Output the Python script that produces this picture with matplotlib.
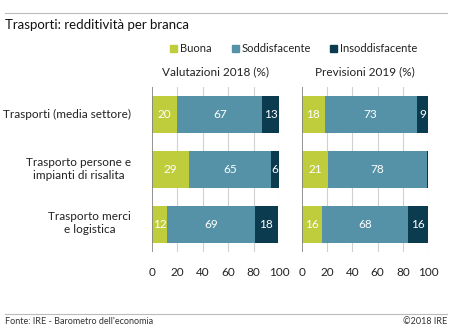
import matplotlib
matplotlib.use("Agg")
import matplotlib.pyplot as plt
from matplotlib.lines import Line2D
from matplotlib.patches import Rectangle

plt.rcParams['font.family'] = ['Lato', 'DejaVu Sans']

categories = ["Trasporti (media settore)",
              "Trasporto persone e\nimpianti di risalita",
              "Trasporto merci\ne logistica"]
series = ["Buona", "Soddisfacente", "Insoddisfacente"]
colors = ["#bfcd3c", "#5592a8", "#0b3b4f"]

val_2018 = {"Buona": [20, 29, 12], "Soddisfacente": [67, 65, 69], "Insoddisfacente": [13, 6, 18]}
prev_2019 = {"Buona": [18, 21, 16], "Soddisfacente": [73, 78, 68], "Insoddisfacente": [9, 1, 16]}
panel_titles = ["Valutazioni 2018 (%)", "Previsioni 2019 (%)"]
xticks = [0, 20, 40, 60, 80, 100]

W, H = 450, 328
fig = plt.figure(figsize=(W / 100, H / 100), dpi=100)

def fx(px):
    return px / W

def fy(py):
    return 1 - py / H

FS = 8.5
panels = [(152, 279, val_2018), (302, 428, prev_2019)]
y_top, y_bot = 87, 252

for i, (x0, x1, data) in enumerate(panels):
    ax = fig.add_axes([fx(x0), fy(y_bot), fx(x1 - x0), fy(y_top) - fy(y_bot)])
    ax.set_xlim(0, 100)
    ax.set_ylim(2.5, -0.5)
    for s in ax.spines.values():
        s.set_visible(False)
    for t in xticks[1:]:
        ax.axvline(t, color="#d0d0d0", lw=0.8, zorder=0)
    ax.axvline(0, color="#808080", lw=1.2, zorder=3)
    left = [0] * len(categories)
    for s, c in zip(series, colors):
        vals = data[s]
        ax.barh(range(len(categories)), vals, left=left, height=0.68, color=c, zorder=2)
        for j, v in enumerate(vals):
            if v >= 5:
                ax.text(left[j] + v / 2, j, str(v), ha="center", va="center",
                        color="white", fontsize=FS, zorder=4)
        left = [l + v for l, v in zip(left, vals)]
    ax.set_xticks(xticks)
    ax.tick_params(axis="x", length=0, pad=11, labelsize=FS, colors="#222222")
    ax.set_yticks([])
    fig.text(fx((x0 + x1) / 2), fy(72), panel_titles[i], fontsize=FS,
             ha="center", va="center", color="#222222")

# category labels
for j, cat in enumerate(categories):
    fig.text(fx(131), fy([114, 169, 223][j]), cat, fontsize=FS, ha="right", va="center",
             multialignment="center", color="#222222", linespacing=1.25)

# header and footer rules
fig.add_artist(Line2D([fx(5), fx(447)], [fy(13), fy(13)], color="#bbbbbb", lw=0.8))
fig.add_artist(Line2D([fx(5), fx(447)], [fy(314), fy(314)], color="#bbbbbb", lw=0.8))
fig.text(fx(5), fy(25), "Trasporti: redditività per branca", fontsize=9.5,
         ha="left", va="center", color="#111111")

# legend
legend_x = [170, 232, 330]
for x, s, c in zip(legend_x, series, colors):
    fig.add_artist(Rectangle((fx(x), fy(52)), fx(7), fy(45) - fy(52), color=c,
                             transform=fig.transFigure))
    fig.text(fx(x + 10), fy(48), s, fontsize=8, ha="left", va="center", color="#222222")

fig.text(fx(5), fy(322), "Fonte: IRE - Barometro dell'economia", fontsize=6.5,
         ha="left", va="center", color="#333333")
fig.text(fx(447), fy(322), "©2018 IRE", fontsize=6.5, ha="right", va="center", color="#333333")

fig.savefig("out.png", dpi=100)
